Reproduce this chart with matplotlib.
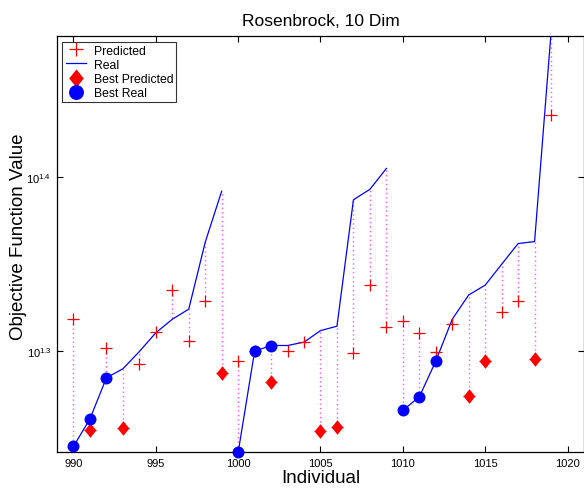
import matplotlib
matplotlib.use("Agg")
import matplotlib.pyplot as plt
from matplotlib.ticker import FixedLocator, FixedFormatter, NullLocator

plt.rcParams['font.family'] = ['Liberation Sans', 'DejaVu Sans']
plt.rcParams['mathtext.fontset'] = 'custom'
plt.rcParams['mathtext.rm'] = 'Liberation Sans'
plt.rcParams['mathtext.it'] = 'Liberation Sans'

individuals = list(range(990, 1020))

real = [17.60, 18.25, 19.27, 19.50, 19.95, 20.45, 20.82, 21.10, 23.05, 24.66,
        17.46, 19.96, 20.11, 20.11, 20.20, 20.51, 20.63, 24.38, 24.72, 25.41,
        18.46, 18.79, 19.70, 20.82, 21.50, 21.78, 22.39, 23.01, 23.07, 30.41]

predicted = [20.82, 17.99, 20.05, 18.04, 19.63, 20.47, 21.63, 20.24, 21.33, 19.40,
             19.69, 19.96, 19.17, 19.96, 20.20, 17.97, 18.06, 19.90, 21.77, 20.61,
             20.77, 20.45, 19.93, 20.68, 18.81, 19.69, 21.03, 21.33, 19.76, 27.27]

best_predicted = [991, 993, 999, 1002, 1005, 1006, 1014, 1015, 1018]
best_real = [990, 991, 992, 1000, 1001, 1002, 1010, 1011, 1012]

generation_size = 10

fig = plt.figure(figsize=(5.84, 4.89), dpi=100)
ax = fig.add_axes([0.0976, 0.0736, 0.9024, 0.8507])

# dotted connectors predicted -> real
for x, p, r in zip(individuals, predicted, real):
    ax.plot([x, x], [p, r], color='#ff55ff', linestyle=(0, (1, 2.2)), linewidth=1.0, zorder=1)

# real values, one segment per generation
for g in range(0, len(individuals), generation_size):
    ax.plot(individuals[g:g + generation_size], real[g:g + generation_size],
            color='#0000ff', linewidth=0.9, zorder=2,
            label='Real' if g == 0 else None)

ax.plot(individuals, predicted, linestyle='none', marker='+', color='red',
        markersize=8.6, markeredgewidth=0.9, label='Predicted', zorder=3)

diamond = [(0, 1), (0.8, 0), (0, -1), (-0.8, 0), (0, 1)]
bp_y = [predicted[individuals.index(i)] for i in best_predicted]
ax.plot(best_predicted, bp_y, linestyle='none', marker=diamond, color='red',
        markersize=10.5, markeredgewidth=0, label='Best Predicted', zorder=4)

br_y = [real[individuals.index(i)] for i in best_real]
ax.plot(best_real, br_y, linestyle='none', marker='o', color='#0000ff',
        markersize=8.6, markeredgewidth=0, label='Best Real', zorder=5,
        clip_on=False)

ax.set_yscale('log')
ax.set_xlim(989, 1021)
ax.set_ylim(17.47, 30.27)

ax.set_xticks(range(990, 1021, 5))
ax.yaxis.set_major_locator(FixedLocator([10 ** 1.3, 10 ** 1.4]))
ax.yaxis.set_major_formatter(FixedFormatter(['$10^{1.3}$', '$10^{1.4}$']))
ax.yaxis.set_minor_locator(NullLocator())
ax.tick_params(direction='in', top=True, right=True, length=4, width=0.8,
               labelsize=8, pad=4)
for s in ax.spines.values():
    s.set_linewidth(0.9)

ax.set_title('Rosenbrock, 10 Dim', fontsize=12.5, pad=8)
ax.set_xlabel('Individual', fontsize=13.5, labelpad=1)
ax.set_ylabel('Objective Function Value', fontsize=13.5, labelpad=0)
ax.yaxis.set_label_coords(-0.056, 0.52)

handles, labels = ax.get_legend_handles_labels()
order = [labels.index(n) for n in ['Predicted', 'Real', 'Best Predicted', 'Best Real']]
leg = ax.legend([handles[i] for i in order], [labels[i] for i in order],
                loc='upper left', fontsize=8.8, frameon=True, fancybox=False,
                edgecolor='black', borderpad=0.25, labelspacing=0.18,
                handlelength=1.7, handletextpad=0.6, borderaxespad=0.45,
                markerscale=1.25)
leg.get_frame().set_linewidth(0.8)

fig.savefig('out.png', dpi=100)
